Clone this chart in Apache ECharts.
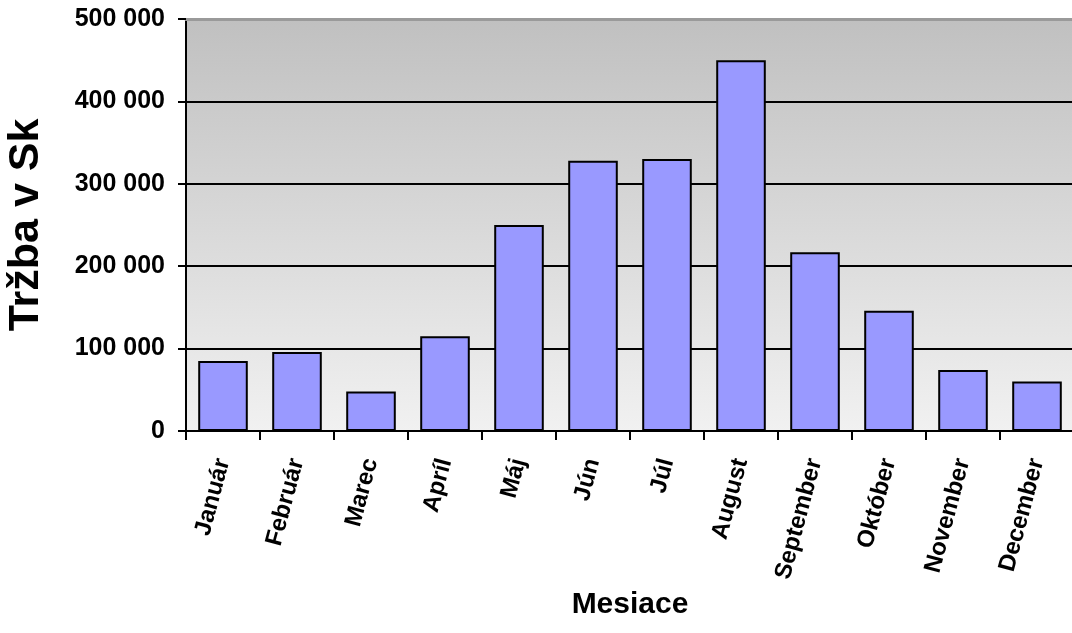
<!DOCTYPE html>
<html>
<head>
<meta charset="utf-8">
<script src="https://cdn.jsdelivr.net/npm/echarts@6/dist/echarts.min.js"></script>
<style>
  html, body { margin: 0; padding: 0; background: #ffffff; }
  #chart { width: 1072px; height: 633px; }
</style>
</head>
<body>
<div id="chart"></div>
<script>
// Mesačná tržba (Sk)
const months = ['Január', 'Február', 'Marec', 'Apríl', 'Máj', 'Jún', 'Júl', 'August', 'September', 'Október', 'November', 'December'];
const revenue = [85000, 96000, 48000, 115000, 250000, 328000, 330000, 450000, 217000, 146000, 74000, 60000];
const yTicks = [0, 100000, 200000, 300000, 400000, 500000];

const FONT = '"Liberation Sans", Arial, sans-serif';

function thousands(v) {
  return String(v).replace(/\B(?=(\d{3})+(?!\d))/g, ' ');
}

const chart = echarts.init(document.getElementById('chart'), null, { renderer: 'canvas' });

chart.setOption({
  animation: false,
  backgroundColor: '#ffffff',
  grid: {
    left: 186,
    top: 19,
    right: -2,
    bottom: 202,
    outerBoundsMode: 'none',
    containLabel: false,
    show: true,
    borderWidth: 0,
    backgroundColor: {
      type: 'linear', x: 0, y: 0, x2: 0, y2: 1,
      colorStops: [
        { offset: 0, color: '#c0c0c0' },
        { offset: 1, color: '#f1f1f1' }
      ]
    }
  },
  xAxis: [
    {
      type: 'category',
      data: months,
      position: 'bottom',
      name: 'Mesiace',
      nameLocation: 'middle',
      nameGap: 155,
      nameTextStyle: { fontFamily: FONT, fontWeight: 'bold', fontSize: 30, color: '#000' },
      axisLine: { show: true, lineStyle: { color: '#000', width: 2 } },
      axisTick: { show: true, alignWithLabel: false, length: 9, lineStyle: { color: '#000', width: 2 } },
      axisLabel: {
        rotate: 75,
        margin: 28,
        interval: 0,
        fontFamily: FONT,
        fontWeight: 'bold',
        fontSize: 24,
        color: '#000'
      },
      splitLine: { show: false }
    },
    {
      // upper edge of the plot area
      type: 'category',
      data: months,
      position: 'top',
      axisLine: { show: true, lineStyle: { color: '#9a9a9a', width: 3 } },
      axisTick: { show: false },
      axisLabel: { show: false },
      splitLine: { show: false }
    }
  ],
  yAxis: {
    type: 'value',
    min: yTicks[0],
    max: yTicks[yTicks.length - 1],
    interval: yTicks[1] - yTicks[0],
    name: 'Tržba v Sk',
    nameLocation: 'middle',
    nameGap: 138,
    nameTextStyle: { fontFamily: FONT, fontWeight: 'bold', fontSize: 43, color: '#000' },
    axisLine: { show: true, lineStyle: { color: '#000', width: 2 } },
    axisTick: { show: true, length: 8, lineStyle: { color: '#000', width: 2 } },
    axisLabel: {
      margin: 21,
      fontFamily: FONT,
      fontWeight: 'bold',
      fontSize: 25,
      color: '#000',
      formatter: thousands
    },
    splitLine: {
      show: true,
      lineStyle: { color: ['#000', '#000', '#000', '#000', '#000', '#9a9a9a'], width: 2 }
    }
  },
  series: [
    {
      type: 'bar',
      data: revenue,
      barWidth: '67%',
      itemStyle: { color: '#9999ff', borderColor: '#000', borderWidth: 2 }
    }
  ]
});
</script>
</body>
</html>
